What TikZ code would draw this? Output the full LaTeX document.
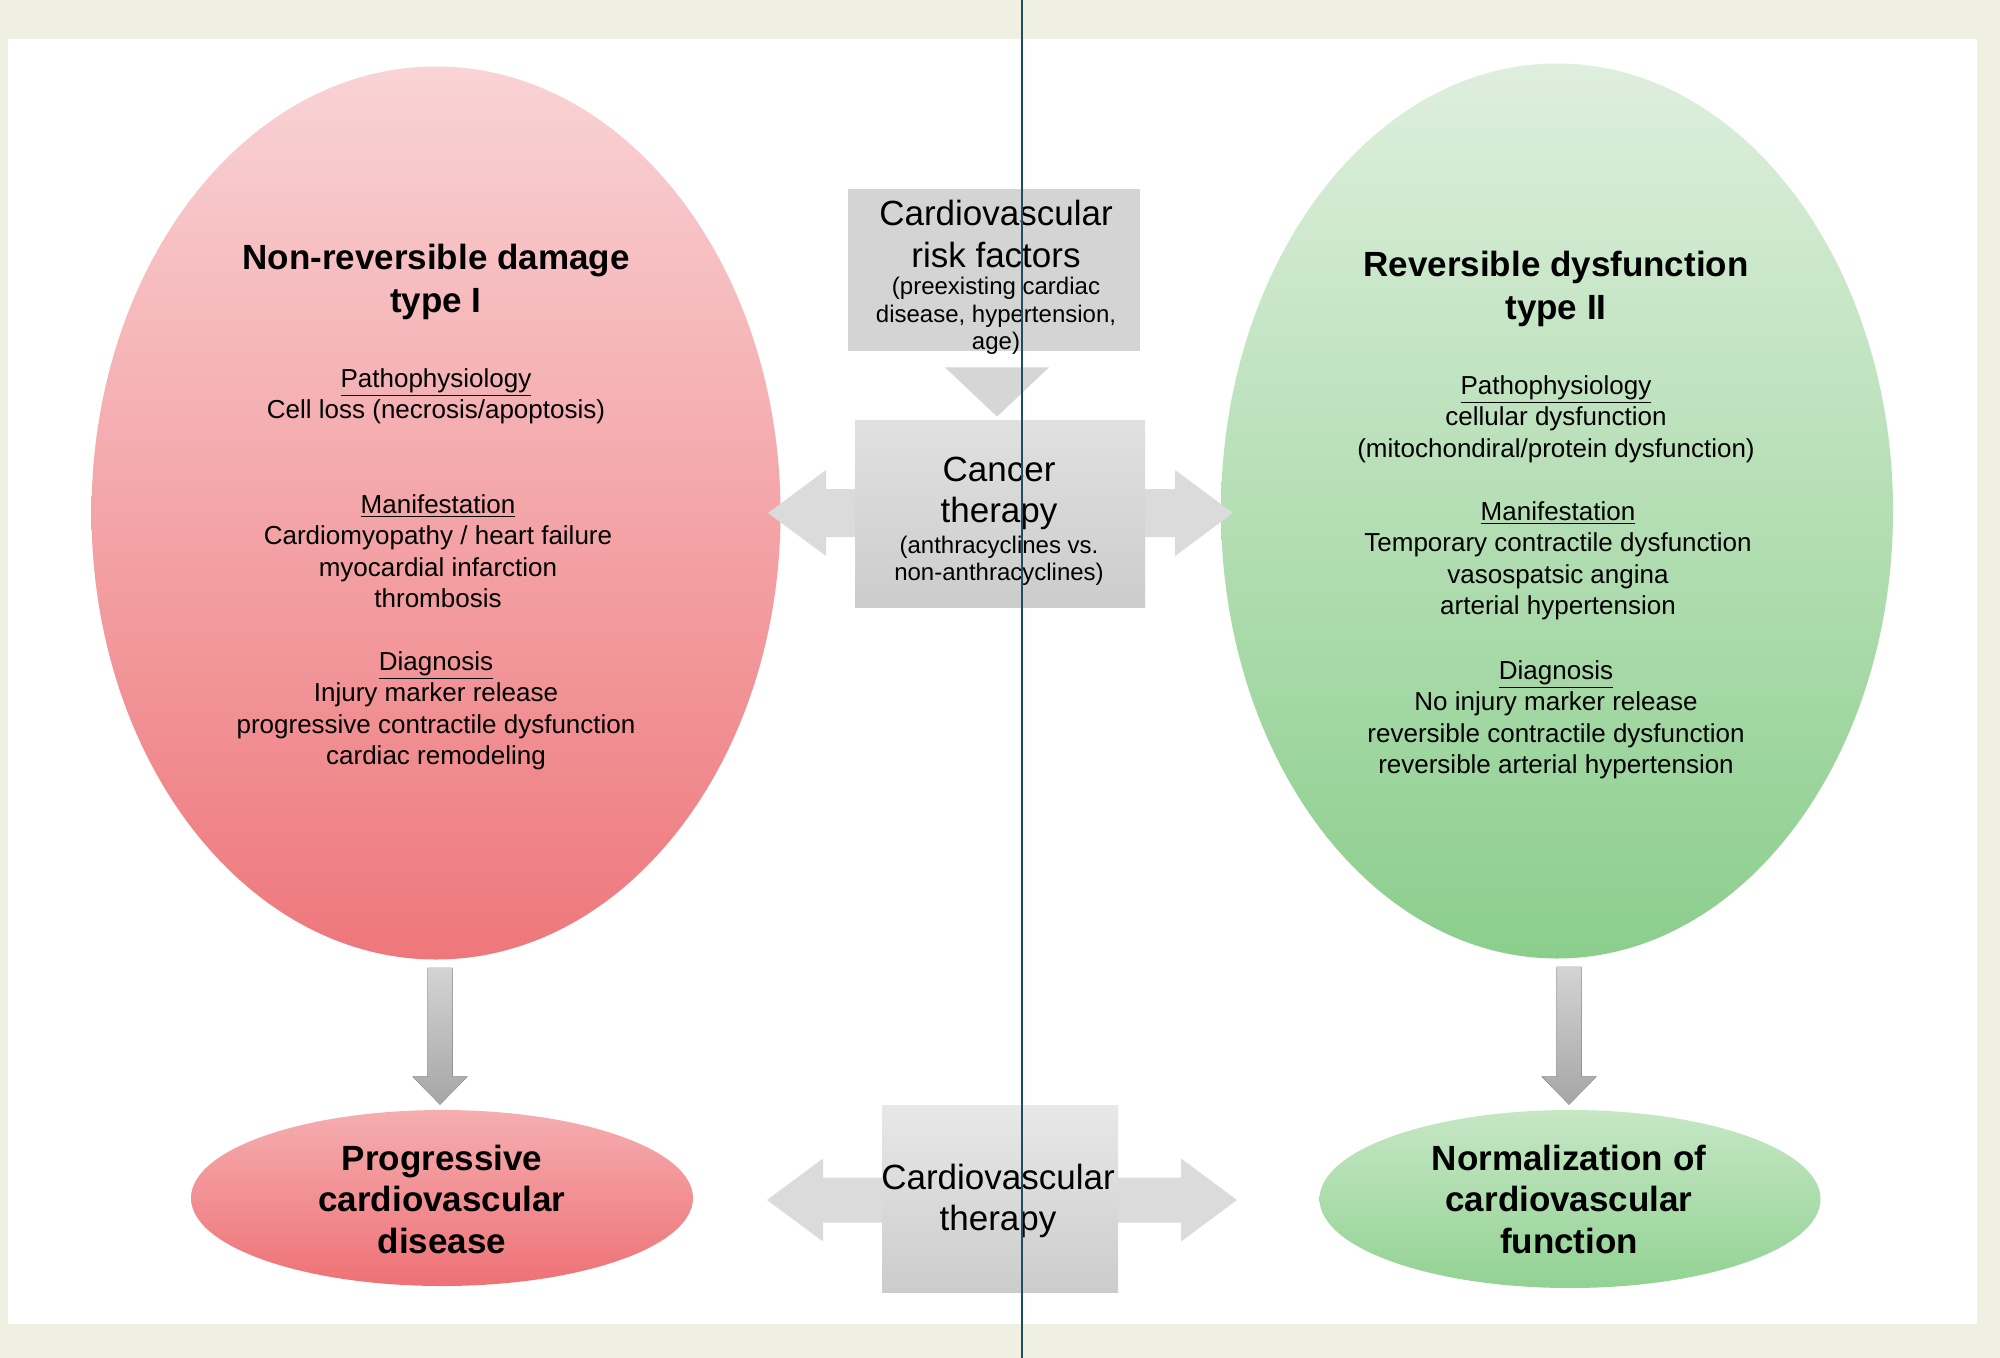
\documentclass[tikz,border=0pt]{standalone}
\usepackage{fontspec}
\setmainfont{Liberation Sans}
\usetikzlibrary{shapes.geometric,calc}
\definecolor{cream}{HTML}{EFEFE2}
\definecolor{pinkTop}{HTML}{F9D3D5}
\definecolor{pinkBot}{HTML}{EE777B}
\definecolor{greenTop}{HTML}{DEEFDD}
\definecolor{greenBot}{HTML}{8BCE8C}
\definecolor{pinkTopS}{HTML}{F5AEB1}
\definecolor{pinkBotS}{HTML}{EE7175}
\definecolor{greenTopS}{HTML}{C6E7C5}
\definecolor{greenBotS}{HTML}{92D293}
\definecolor{divider}{HTML}{1C4F66}
\begin{document}
\begin{tikzpicture}[x=0.5pt,y=-0.5pt,
  % multi-line text nodes are placed by the baseline of their last line
  body/.style={align=center,inner sep=0pt,anchor=base,font=\fontsize{13}{15.75}\selectfont},
  title/.style={align=center,inner sep=0pt,anchor=base,font=\fontsize{17.5}{21.5}\selectfont\bfseries},
  outcome/.style={align=center,inner sep=0pt,anchor=base,font=\fontsize{17.5}{20.75}\selectfont\bfseries},
  boxbig/.style={align=center,inner sep=0pt,anchor=base,font=\fontsize{17.5}{20.75}\selectfont},
  boxsub/.style={align=center,inner sep=0pt,anchor=base,font=\fontsize{12}{13.75}\selectfont},
  blob/.style={ellipse,draw=none,inner sep=0pt},
  graybox/.style={rectangle,draw=none,inner sep=0pt},
  sidearrow/.style={fill=black!14},
  downarrow/.style={top color=black!17,bottom color=black!35},
]
\useasboundingbox (0,0) rectangle (2000,1358);
% page background and white panel
\fill[cream] (0,0) rectangle (2000,1358);
\fill[white] (8,39) rectangle (1977,1324);

% large ellipses
\node[blob,top color=pinkTop,bottom color=pinkBot,minimum width=344.5pt,minimum height=446.5pt] (bigL) at (436,513) {};
\node[blob,top color=greenTop,bottom color=greenBot,minimum width=336pt,minimum height=447.5pt] (bigR) at (1557,511) {};

% outcome ellipses
\node[blob,top color=pinkTopS,bottom color=pinkBotS,minimum width=251pt,minimum height=88pt] (botL) at (442,1198) {};
\node[blob,top color=greenTopS,bottom color=greenBotS,minimum width=250.5pt,minimum height=89pt] (botR) at (1570,1199) {};

% arrow end points
\coordinate (midL) at (768,513);
\coordinate (midR) at (1233,513);
\coordinate (lowL) at (767,1200);
\coordinate (lowR) at (1237,1200);

% horizontal double arrows
\fill[sidearrow] let \p1=(midL), \p2=(midR) in
  (\x1,\y1) -- (\x1+29pt,\y1+21.5pt) -- (\x1+29pt,\y1+12pt) -- (\x2-29pt,\y1+12pt)
  -- (\x2-29pt,\y1+21.5pt) -- (\x2,\y1) -- (\x2-29pt,\y1-21.5pt) -- (\x2-29pt,\y1-12pt)
  -- (\x1+29pt,\y1-12pt) -- (\x1+29pt,\y1-21.5pt) -- cycle;
\fill[sidearrow] let \p1=(lowL), \p2=(lowR) in
  (\x1,\y1) -- (\x1+28pt,\y1+20.75pt) -- (\x1+28pt,\y1+11.25pt) -- (\x2-28pt,\y1+11.25pt)
  -- (\x2-28pt,\y1+20.75pt) -- (\x2,\y1) -- (\x2-28pt,\y1-20.75pt) -- (\x2-28pt,\y1-11.25pt)
  -- (\x1+28pt,\y1-11.25pt) -- (\x1+28pt,\y1-20.75pt) -- cycle;

% central boxes
\node[graybox,fill=black!17,minimum width=146pt,minimum height=81pt] (risk) at (994,270) {};
\node[graybox,top color=black!12,bottom color=black!20,minimum width=145pt,minimum height=93.5pt] (cancer) at (1000,513.5) {};
\node[graybox,top color=black!9,bottom color=black!20,minimum width=118pt,minimum height=93.5pt] (cvt) at (1000,1198.5) {};

% risk factors feed into cancer therapy
\coordinate (riskOut) at ($(risk.south)+(3,16)$);
\fill[black!16] let \p1=(riskOut), \p2=($(cancer.north)+(-3,-3)$) in
  (\x1-26pt,\y1) -- (\x1+26pt,\y1) -- (\x2,\y2) -- cycle;

% vertical arrows to outcomes
\fill[downarrow] let \p1=($(bigL.south)+(4,8)$), \p2=($(botL.north)+(0,-5)$) in
  (\x1-6.25pt,\y1) -- (\x1+6.25pt,\y1) -- (\x1+6.25pt,\y2+14pt) -- (\x1+13.75pt,\y2+14pt)
  -- (\x1,\y2) -- (\x1-13.75pt,\y2+14pt) -- (\x1-6.25pt,\y2+14pt) -- cycle;
\fill[downarrow] let \p1=($(bigR.south)+(12,8)$), \p2=($(botR.north)+(0,-5)$) in
  (\x1-6.25pt,\y1) -- (\x1+6.25pt,\y1) -- (\x1+6.25pt,\y2+14pt) -- (\x1+13.75pt,\y2+14pt)
  -- (\x1,\y2) -- (\x1-13.75pt,\y2+14pt) -- (\x1-6.25pt,\y2+14pt) -- cycle;

% texts of the type I ellipse
\node[title] (tL) at (436,313) {Non-reversible damage\\type I};
\node[body] (pL) at (436,418.5) {\underline{Pathophysiology}\\Cell loss (necrosis/apoptosis)};
\node[body] (mL) at (438,607.5) {\underline{Manifestation}\\Cardiomyopathy / heart failure\\myocardial infarction\\thrombosis};
\node[body] (dL) at (436,764.5) {\underline{Diagnosis}\\Injury marker release\\progressive contractile dysfunction\\cardiac remodeling};

% texts of the type II ellipse
\node[title] (tR) at (1556,320) {Reversible dysfunction\\type II};
\node[body] (pR) at (1556,457) {\underline{Pathophysiology}\\cellular dysfunction\\(mitochondiral/protein dysfunction)};
\node[body] (mR) at (1558,614.5) {\underline{Manifestation}\\Temporary contractile dysfunction\\vasospatsic angina\\arterial hypertension};
\node[body] (dR) at (1556,773.5) {\underline{Diagnosis}\\No injury marker release\\reversible contractile dysfunction\\reversible arterial hypertension};

% texts of the central boxes
\node[boxbig] (riskT) at (996,267.5) {Cardiovascular\\risk factors};
\node[boxsub] (riskS) at (996,350) {(preexisting cardiac\\disease, hypertension,\\age)};
\node[boxbig] (cancerT) at (999,522.5) {Cancer\\therapy};
\node[boxsub] (cancerS) at (999,580.5) {(anthracyclines vs.\\non-anthracyclines)};
\node[boxbig] (cvtT) at (998,1230.5) {Cardiovascular\\therapy};

% outcome texts
\node[outcome] (oL) at (442,1253) {Progressive\\cardiovascular\\disease};
\node[outcome] (oR) at (1569,1253) {Normalization of\\cardiovascular\\function};

% thin divider
\draw[divider,line width=1pt] (1022,0) -- (1022,1358);
\end{tikzpicture}
\end{document}
